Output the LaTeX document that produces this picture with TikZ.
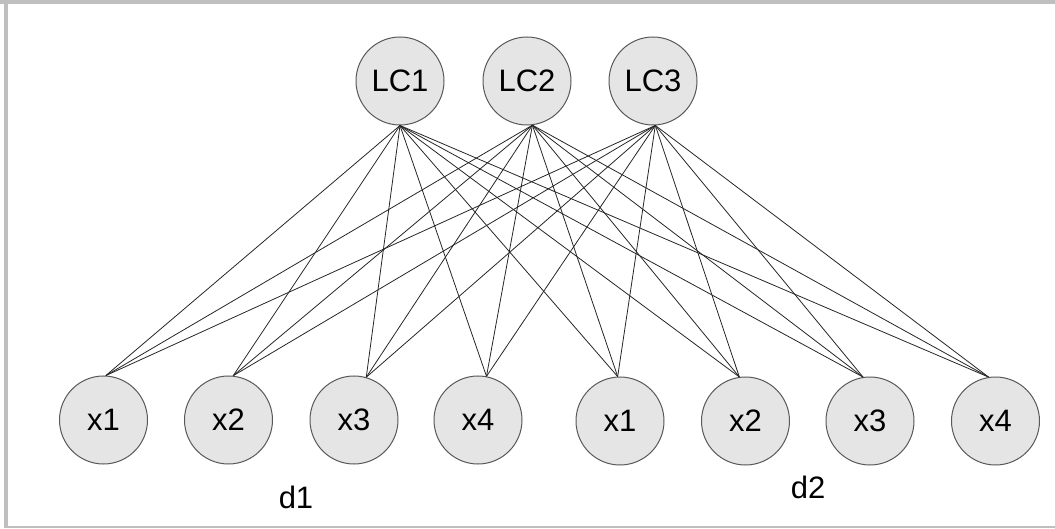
\documentclass[tikz,border=0pt]{standalone}
\usepackage{fontspec}
\setmainfont{Liberation Sans}
\begin{document}
\begin{tikzpicture}[x=1pt,y=-1pt,
  unit/.style={circle,draw=black!65,fill=black!10,line width=1pt,minimum size=88pt,inner sep=0pt,font=\fontsize{31}{34}\selectfont},
  lbl/.style={font=\fontsize{31}{34}\selectfont,inner sep=0pt},
  edge/.style={draw=black!85,line width=0.8pt},
  frame/.style={fill=black!25,draw=none}]
\useasboundingbox (0,0) rectangle (1055,529);
\fill[frame] (0,0) rectangle (1055,3.7);
\fill[frame] (4,0) rectangle (7.7,527.7);
\fill[frame] (7,525.7) rectangle (1055,527.7);
% top nodes
\node[unit] (lc1) at (400,81) {LC1};
\node[unit] (lc2) at (527,81) {LC2};
\node[unit] (lc3) at (653,81) {LC3};
% bottom nodes
\node[unit] (a1) at (103.5,420) {x1};
\node[unit] (a2) at (228.5,420) {x2};
\node[unit] (a3) at (354,420) {x3};
\node[unit] (a4) at (478,420) {x4};
\node[unit] (b1) at (620,421) {x1};
\node[unit] (b2) at (745.5,421) {x2};
\node[unit] (b3) at (870,421) {x3};
\node[unit] (b4) at (995.5,421) {x4};
\node[lbl] (d1) at (296,497) {d1};
\node[lbl] (d2) at (808,487) {d2};
% connection points
\coordinate (t1) at (lc1.-90);
\coordinate (t2) at (lc2.-83);
\coordinate (t3) at (lc3.-87);
\coordinate (p1) at (a1.87);
\coordinate (p2) at (a2.84);
\coordinate (p3) at (a3.74);
\coordinate (p4) at (a4.79);
\coordinate (q1) at (b1.93);
\coordinate (q2) at (b2.98);
\coordinate (q3) at (b3.99);
\coordinate (q4) at (b4.99);
\foreach \t in {t1,t2,t3}{
  \foreach \p in {p1,p2,p3,p4,q1,q2,q3,q4}{
    \draw[edge] (\t) -- (\p);
  }
}
\end{tikzpicture}
\end{document}
